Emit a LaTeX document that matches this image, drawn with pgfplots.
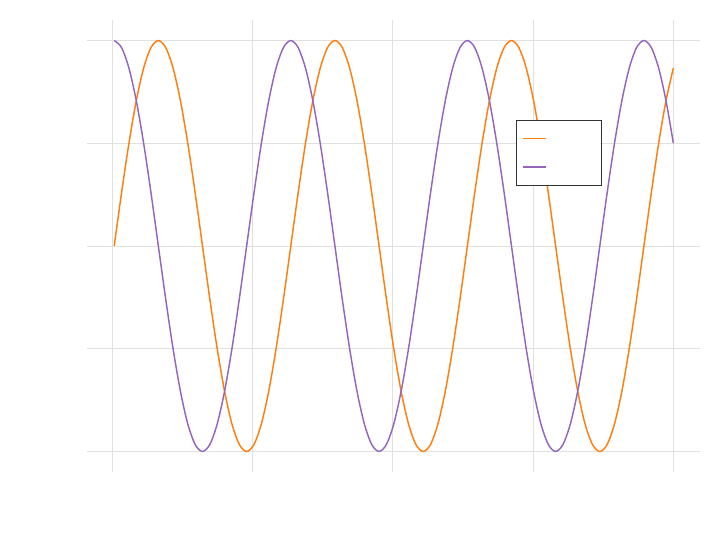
\documentclass[border=0pt]{standalone}
\usepackage{pgfplots}
\usepackage{pgfplotstable}
\pgfplotsset{compat=1.18}
\definecolor{sinc}{HTML}{FF7F0E}
\definecolor{cosc}{HTML}{9467BD}
\pgfplotstableread{
x s c
0.070 0.0000 1.0000
0.332 0.2588 0.9659
0.594 0.5000 0.8660
0.857 0.7071 0.7071
1.119 0.8660 0.5000
1.381 0.9659 0.2588
1.643 1.0000 0.0000
1.906 0.9659 -0.2588
2.168 0.8660 -0.5000
2.430 0.7071 -0.7071
2.692 0.5000 -0.8660
2.955 0.2588 -0.9659
3.217 0.0000 -1.0000
3.479 -0.2588 -0.9659
3.741 -0.5000 -0.8660
4.004 -0.7071 -0.7071
4.266 -0.8660 -0.5000
4.528 -0.9659 -0.2588
4.790 -1.0000 0.0000
5.053 -0.9659 0.2588
5.315 -0.8660 0.5000
5.577 -0.7071 0.7071
5.839 -0.5000 0.8660
6.102 -0.2588 0.9659
6.364 0.0000 1.0000
6.626 0.2588 0.9659
6.888 0.5000 0.8660
7.150 0.7071 0.7071
7.413 0.8660 0.5000
7.675 0.9659 0.2588
7.937 1.0000 0.0000
8.199 0.9659 -0.2588
8.462 0.8660 -0.5000
8.724 0.7071 -0.7071
8.986 0.5000 -0.8660
9.248 0.2588 -0.9659
9.511 0.0000 -1.0000
9.773 -0.2588 -0.9659
10.035 -0.5000 -0.8660
10.297 -0.7071 -0.7071
10.560 -0.8660 -0.5000
10.822 -0.9659 -0.2588
11.084 -1.0000 0.0000
11.346 -0.9659 0.2588
11.609 -0.8660 0.5000
11.871 -0.7071 0.7071
12.133 -0.5000 0.8660
12.395 -0.2588 0.9659
12.658 0.0000 1.0000
12.920 0.2588 0.9659
13.182 0.5000 0.8660
13.444 0.7071 0.7071
13.706 0.8660 0.5000
13.969 0.9659 0.2588
14.231 1.0000 0.0000
14.493 0.9659 -0.2588
14.755 0.8660 -0.5000
15.018 0.7071 -0.7071
15.280 0.5000 -0.8660
15.542 0.2588 -0.9659
15.804 0.0000 -1.0000
16.067 -0.2588 -0.9659
16.329 -0.5000 -0.8660
16.591 -0.7071 -0.7071
16.853 -0.8660 -0.5000
17.116 -0.9659 -0.2588
17.378 -1.0000 0.0000
17.640 -0.9659 0.2588
17.902 -0.8660 0.5000
18.165 -0.7071 0.7071
18.427 -0.5000 0.8660
18.689 -0.2588 0.9659
18.951 0.0000 1.0000
19.214 0.2588 0.9659
19.476 0.5000 0.8660
19.738 0.7071 0.7071
20.000 0.8660 0.5000
}\trig
\begin{document}
\begin{tikzpicture}
\path[use as bounding box] (0,0) rectangle (540pt,405pt);
\begin{axis}[
  at={(65.25pt,51pt)}, anchor=south west,
  scale only axis, width=459.75pt, height=339pt,
  xmin=-0.9, xmax=20.95, ymin=-1.1, ymax=1.1,
  xtick={0,5,10,15,20}, ytick={-1,-0.5,0,0.5,1},
  axis line style={draw=none}, major tick length=0pt,
  grid=major, grid style={color=black!12, line width=0.7pt},
  tick label style={text=white},
  /pgf/number format/assume math mode=true,
  legend cell align=left,
  legend style={at={(0.70,0.779)}, anchor=north west, draw=black!80, line width=0.9pt,
    fill=white, inner xsep=4pt, inner ysep=7.5pt, row sep=9pt, font=\small, text=white},
  legend image post style={line width=1.1pt},
]
\addplot[sinc, line width=1.1pt, smooth] table[x=x, y=s] {\trig};
\addlegendentry{\makebox[33.5pt][l]{sin(x)}}
\addplot[cosc, line width=1.1pt, smooth] table[x=x, y=c] {\trig};
\addlegendentry{\makebox[33.5pt][l]{cos(x)}}
\end{axis}
\end{tikzpicture}
\end{document}
